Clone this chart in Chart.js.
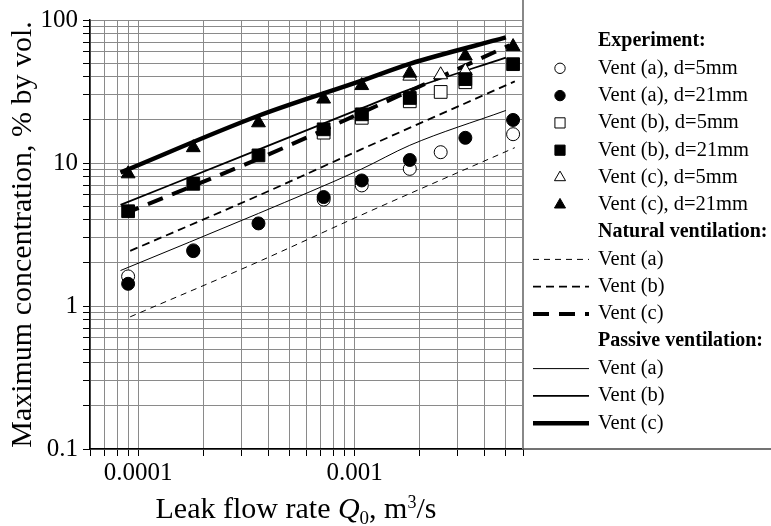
<!DOCTYPE html>
<html>
<head>
<meta charset="utf-8">
<script src="https://cdn.jsdelivr.net/npm/chart.js@4.4.1/dist/chart.umd.min.js"></script>
<style>
  html, body { margin: 0; padding: 0; background: #fff; }
  #wrap { position: relative; width: 771px; height: 526px; }
</style>
</head>
<body>
<div id="wrap"><canvas id="chart" width="771" height="526"></canvas></div>
<script>
// Experiment points (leak flow rate m3/s, max concentration %)
const ventA5x = [9.0e-5, 1.8e-4, 7.2e-4, 1.08e-3, 1.8e-3, 2.5e-3, 5.4e-3];
const ventA5y = [1.61, 2.45, 5.55, 6.97, 9.1, 11.9, 15.9];
const ventA21x = [9.0e-5, 1.8e-4, 3.6e-4, 7.2e-4, 1.08e-3, 1.8e-3, 3.25e-3, 5.4e-3];
const ventA21y = [1.43, 2.42, 3.78, 5.78, 7.55, 10.5, 15.0, 20.0];
const ventB5x = [7.2e-4, 1.08e-3, 1.8e-3, 2.5e-3, 3.25e-3];
const ventB5y = [16.3, 20.7, 27.0, 31.4, 36.7];
const ventB21x = [9.0e-5, 1.8e-4, 3.6e-4, 7.2e-4, 1.08e-3, 1.8e-3, 3.25e-3, 5.4e-3];
const ventB21y = [4.6, 7.15, 11.3, 17.2, 21.9, 28.5, 38.6, 49.1];
const ventC5x = [1.8e-3, 2.5e-3, 3.25e-3];
const ventC5y = [40.5, 41.4, 44.0];
const ventC21x = [9.0e-5, 1.8e-4, 3.6e-4, 7.2e-4, 1.08e-3, 1.8e-3, 3.25e-3, 5.4e-3];
const ventC21y = [8.4, 12.8, 19.1, 28.0, 34.8, 42.5, 56.0, 65.2];

// Model curves
const naturalX = [9.2e-5, 3.6e-4, 1.08e-3, 5.5e-3];
const naturalCX = [8.6e-5, 3.6e-4, 1.08e-3, 5.2e-3];
const naturalA = [0.84, 2.04, 4.34, 12.8];
const naturalB = [2.43, 5.92, 12.5, 37.2];
const naturalC = [4.41, 10.7, 22.5, 66.5];
const passiveX = [8.3e-5, 3.6e-4, 1.08e-3, 1.8e-3, 5.0e-3];
const passiveA = [1.77, 4.44, 9.09, 13.3, 23.3];
const passiveB = [5.09, 12.4, 24.2, 32.7, 54.6];
const passiveC = [8.58, 21.4, 37.7, 49.4, 75.5];

// Axes
const xMin = 6e-5, xMax = 6e-3;
const yMin = 0.1, yMax = 100;
const xTickLabels = { '0.0001': '0.0001', '0.001': '0.001' };
const yTickLabels = { '0.1': '0.1', '1': '1', '10': '10', '100': '100' };

const serif = '"Liberation Serif", "Times New Roman", serif';
const pts = (xs, ys) => xs.map((x, i) => ({ x, y: ys[i] }));

const logTicks = (min, max) => {
  const out = [];
  for (let e = Math.floor(Math.log10(min)); e <= Math.ceil(Math.log10(max)); e++) {
    for (let m = 1; m <= 9; m++) {
      const v = parseFloat((m * Math.pow(10, e)).toPrecision(3));
      if (v >= min * 0.999 && v <= max * 1.001) out.push(v);
    }
  }
  return out;
};

const marker = (label, xs, ys, style, filled, r, order) => ({
  label, data: pts(xs, ys), showLine: false,
  pointStyle: style, pointRadius: r, pointHoverRadius: r,
  pointBackgroundColor: filled ? '#000' : '#fff',
  pointBorderColor: '#000', pointBorderWidth: 1, order
});
const curve = (label, xs, ys, width, dash) => ({
  label, data: pts(xs, ys), showLine: true, pointRadius: 0,
  borderColor: '#000', borderWidth: width, borderDash: dash,
  fill: false, cubicInterpolationMode: 'monotone', order: 10
});

const datasets = [
  marker('Vent (a), d=5mm', ventA5x, ventA5y, 'circle', false, 6.5, 5),
  marker('Vent (a), d=21mm', ventA21x, ventA21y, 'circle', true, 6.5, 1),
  marker('Vent (b), d=5mm', ventB5x, ventB5y, 'rect', false, 9, 5),
  marker('Vent (b), d=21mm', ventB21x, ventB21y, 'rect', true, 9, 1),
  marker('Vent (c), d=5mm', ventC5x, ventC5y, 'triangle', false, 8, 5),
  marker('Vent (c), d=21mm', ventC21x, ventC21y, 'triangle', true, 8, 1),
  curve('Vent (a)', naturalX, naturalA, 1, [6, 5]),
  curve('Vent (b)', naturalX, naturalB, 1.8, [8, 5]),
  curve('Vent (c)', naturalCX, naturalC, 4, [16, 10]),
  curve('Vent (a)', passiveX, passiveA, 1, []),
  curve('Vent (b)', passiveX, passiveB, 1.8, []),
  curve('Vent (c)', passiveX, passiveC, 4.5, [])
];

// legend rows: headers and dataset indexes
const legendRows = ['Experiment:', 0, 1, 2, 3, 4, 5, 'Natural ventilation:', 6, 7, 8, 'Passive ventilation:', 9, 10, 11];

const extras = {
  id: 'extras',
  afterDraw(chart) {
    const ctx = chart.ctx;
    const area = chart.chartArea;
    ctx.save();
    // frame on the legend side
    ctx.strokeStyle = '#888';
    ctx.lineWidth = 2;
    ctx.beginPath();
    ctx.moveTo(area.right, 0);
    ctx.lineTo(area.right, area.bottom);
    ctx.stroke();
    ctx.strokeStyle = '#444';
    ctx.lineWidth = 1.5;
    ctx.beginPath();
    ctx.moveTo(area.right, area.bottom);
    ctx.lineTo(771, area.bottom);
    ctx.stroke();

    // legend
    const y0 = 41, dy = 27.3;
    ctx.textBaseline = 'middle';
    legendRows.forEach((row, i) => {
      const y = y0 + i * dy;
      ctx.fillStyle = '#000';
      if (typeof row === 'string') {
        ctx.font = 'bold 20px ' + serif;
        ctx.fillText(row, 598, y);
        return;
      }
      const ds = chart.data.datasets[row];
      if (ds.showLine) {
        ctx.strokeStyle = '#000';
        ctx.lineWidth = ds.borderWidth;
        ctx.setLineDash(ds.borderDash || []);
        ctx.beginPath();
        ctx.moveTo(533, y);
        ctx.lineTo(589, y);
        ctx.stroke();
        ctx.setLineDash([]);
      } else {
        ctx.fillStyle = ds.pointBackgroundColor;
        ctx.strokeStyle = '#000';
        ctx.lineWidth = 1;
        Chart.helpers.drawPoint(ctx, { pointStyle: ds.pointStyle, radius: ds.pointRadius * 0.8, borderWidth: 1 }, 560, y);
      }
      ctx.fillStyle = '#000';
      ctx.font = '20.5px ' + serif;
      ctx.fillText(ds.label, 598, y);
    });

    // x axis title with italic Q and sub/superscripts
    const parts = [
      ['Leak flow rate ', '30px ' + serif, 0],
      ['Q', 'italic 30px ' + serif, 0],
      ['0', '19px ' + serif, 6],
      [', m', '30px ' + serif, 0],
      ['3', '18px ' + serif, -10],
      ['/s', '30px ' + serif, 0]
    ];
    let total = 0;
    parts.forEach(p => { ctx.font = p[1]; total += ctx.measureText(p[0]).width; });
    let x = 296 - total / 2;
    const base = 518;
    ctx.textBaseline = 'alphabetic';
    parts.forEach(p => {
      ctx.font = p[1];
      ctx.fillText(p[0], x, base + p[2]);
      x += ctx.measureText(p[0]).width;
    });
    ctx.restore();
  }
};

new Chart(document.getElementById('chart'), {
  type: 'scatter',
  data: { datasets },
  options: {
    responsive: false,
    animation: false,
    layout: { padding: { left: 0, right: 248, top: 16, bottom: 0 } },
    plugins: { legend: { display: false }, tooltip: { enabled: false } },
    scales: {
      x: {
        type: 'logarithmic', min: xMin, max: xMax,
        afterBuildTicks: s => { s.ticks = logTicks(xMin, xMax).map(v => ({ value: v })); },
        afterFit: s => { s.height = 77; },
        ticks: {
          autoSkip: false, maxRotation: 0, padding: 2, color: '#000',
          font: { family: serif, size: 25 },
          callback: v => xTickLabels[String(v)] || ''
        },
        grid: { color: '#8a8a8a', lineWidth: 1, tickLength: 7, tickColor: '#000' },
        border: { color: '#000', width: 1.5 }
      },
      y: {
        type: 'logarithmic', min: yMin, max: yMax,
        afterBuildTicks: s => { s.ticks = logTicks(yMin, yMax).map(v => ({ value: v })); },
        afterFit: s => { s.width = 90; },
        ticks: {
          autoSkip: false, padding: 5, color: '#000',
          font: { family: serif, size: 25 },
          callback: v => yTickLabels[String(v)] || ''
        },
        grid: { color: '#8a8a8a', lineWidth: 1, tickLength: 7, tickColor: '#000' },
        border: { color: '#000', width: 1.5 },
        title: {
          display: true, text: 'Maximum concentration, % by vol.', color: '#000',
          font: { family: serif, size: 30 }, padding: { top: 5, bottom: 0 }
        }
      }
    }
  },
  plugins: [extras]
});
</script>
</body>
</html>
